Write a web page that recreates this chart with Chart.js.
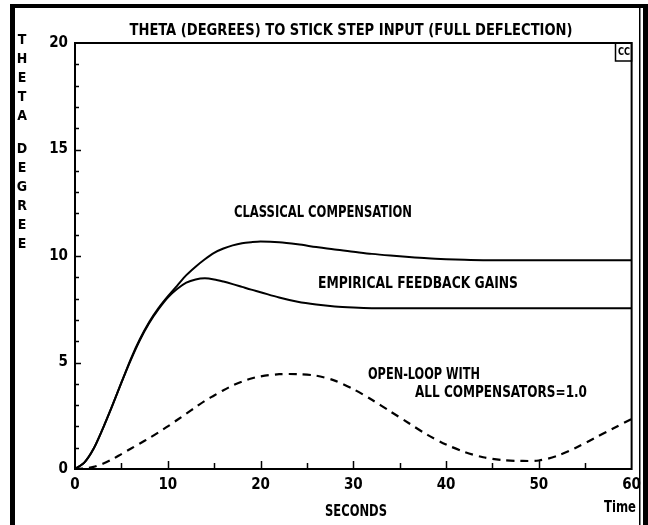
<!DOCTYPE html>
<html>
<head>
<meta charset="utf-8">
<script src="https://cdn.jsdelivr.net/npm/chart.js@4"></script>
<style>
  html, body { margin: 0; padding: 0; background: #fff; }
  #wrap { width: 648px; height: 525px; }
</style>
</head>
<body>
<div id="wrap"><canvas id="myChart" width="648" height="525"></canvas></div>
<script>
const time = [0, 1, 2, 3, 4, 5, 6, 7, 8, 9, 10, 11, 12, 13, 14, 15, 16, 17, 18, 19, 20,
  22, 24, 26, 28, 30, 32, 34, 36, 38, 40, 42, 44, 46, 48, 50, 52, 54, 56, 58, 60];

const classical = [0, 0.3, 0.95, 1.9, 2.95, 4.05, 5.15, 6.1, 6.9, 7.55, 8.1, 8.6, 9.1, 9.5, 9.85, 10.15, 10.35, 10.5, 10.6, 10.65, 10.68,
  10.65, 10.55, 10.42, 10.3, 10.2, 10.1, 10.02, 9.95, 9.89, 9.85, 9.82, 9.8, 9.8, 9.8, 9.8, 9.8, 9.8, 9.8, 9.8, 9.8];

const empirical = [0, 0.3, 0.95, 1.9, 2.95, 4.05, 5.1, 6.05, 6.85, 7.5, 8.05, 8.45, 8.75, 8.9, 8.95, 8.9, 8.8, 8.68, 8.55, 8.42, 8.3,
  8.05, 7.85, 7.72, 7.63, 7.58, 7.55, 7.55, 7.55, 7.55, 7.55, 7.55, 7.55, 7.55, 7.55, 7.55, 7.55, 7.55, 7.55, 7.55, 7.55];

const openLoop = [0, 0.02, 0.1, 0.25, 0.45, 0.7, 0.95, 1.2, 1.45, 1.72, 2.0, 2.3, 2.6, 2.9, 3.2, 3.45, 3.7, 3.92, 4.1, 4.25, 4.35,
  4.45, 4.45, 4.38, 4.15, 3.75, 3.25, 2.7, 2.15, 1.6, 1.15, 0.8, 0.55, 0.42, 0.38, 0.4, 0.62, 1.0, 1.45, 1.9, 2.35];

const xTicks = [0, 10, 20, 30, 40, 50, 60];
const yTicks = [0, 5, 10, 15, 20];

const FONT = "'DejaVu Sans Condensed', 'Liberation Sans Narrow', sans-serif";
const toPoints = (ys) => time.map((t, i) => ({ x: t, y: ys[i] }));

// squeezed text, the original uses a tall narrow plotter font
const label = (ctx, text, x, y, w, size) => {
  ctx.font = "bold " + (size || 16) + "px " + FONT;
  ctx.fillText(text, x, y, w);
};

const decorPlugin = {
  id: "decor",
  afterDraw(chart) {
    const { ctx, chartArea: a, scales } = chart;
    const xs = scales.x, ys = scales.y;
    ctx.save();
    ctx.strokeStyle = "#000";
    ctx.fillStyle = "#000";

    // plot box
    ctx.lineWidth = 2;
    ctx.strokeRect(a.left, a.top, a.right - a.left, a.bottom - a.top);

    // inward tick marks
    ctx.lineWidth = 1.5;
    for (let t = 5; t < 60; t += 5) {
      const px = Math.round(xs.getPixelForValue(t)) + 0.5;
      const len = t % 10 === 0 ? 8 : 6;
      ctx.beginPath(); ctx.moveTo(px, a.bottom); ctx.lineTo(px, a.bottom - len); ctx.stroke();
    }
    for (let v = 1; v < 20; v++) {
      const py = Math.round(ys.getPixelForValue(v)) + 0.5;
      const len = v % 5 === 0 ? 6 : 4;
      ctx.beginPath(); ctx.moveTo(a.left, py); ctx.lineTo(a.left + len, py); ctx.stroke();
    }

    // title
    ctx.textAlign = "center";
    ctx.textBaseline = "middle";
    label(ctx, "THETA (DEGREES) TO STICK STEP INPUT (FULL DEFLECTION)", 351, 31, 443);

    // vertical y title
    ctx.font = "bold 14px " + FONT;
    const letters = "THETA DEGREE";
    let yy = 40;
    for (const ch of letters) {
      if (ch === " ") { yy += 14; continue; }
      ctx.fillText(ch, 22, yy);
      yy += 19;
    }

    // x axis titles
    label(ctx, "SECONDS", 356, 512, 62, 15);
    label(ctx, "Time", 620, 508, 32, 15);

    // CC box
    ctx.lineWidth = 1.5;
    ctx.strokeRect(615.5, a.top, a.right - 615.5, 18);
    label(ctx, "CC", 624, a.top + 9, 12, 11);

    // curve labels
    ctx.textAlign = "left";
    label(ctx, "CLASSICAL COMPENSATION", 234, 213, 178);
    label(ctx, "EMPIRICAL FEEDBACK GAINS", 318, 284, 200);
    label(ctx, "OPEN-LOOP WITH", 368, 375, 112);
    label(ctx, "ALL COMPENSATORS=1.0", 415, 393, 172);

    // outer frame
    ctx.fillRect(10, 4, 5, 521);
    ctx.fillRect(10, 4, 638, 4);
    ctx.fillRect(643, 4, 5, 521);
    ctx.fillRect(639, 8, 1.5, 517);
    ctx.restore();
  }
};

const ctx = document.getElementById("myChart").getContext("2d");
const myChart = new Chart(ctx, {
  type: "line",
  data: {
    datasets: [
      {
        label: "Classical compensation",
        data: toPoints(classical),
        borderColor: "#000",
        borderWidth: 2,
        pointRadius: 0,
        tension: 0.3,
        fill: false,
      },
      {
        label: "Empirical feedback gains",
        data: toPoints(empirical),
        borderColor: "#000",
        borderWidth: 2,
        pointRadius: 0,
        tension: 0.3,
        fill: false,
      },
      {
        label: "Open-loop with all compensators=1.0",
        data: toPoints(openLoop),
        borderColor: "#000",
        borderWidth: 2.2,
        borderDash: [8, 6],
        pointRadius: 0,
        tension: 0.3,
        fill: false,
      },
    ],
  },
  options: {
    responsive: false,
    animation: false,
    layout: { padding: { left: 0, right: 15, top: 43, bottom: 0 } },
    plugins: {
      legend: { display: false },
      tooltip: { enabled: false },
    },
    scales: {
      x: {
        type: "linear",
        min: 0,
        max: 60,
        afterFit: (s) => { s.height = 56; },
        afterBuildTicks: (s) => { s.ticks = xTicks.map((v) => ({ value: v })); },
        grid: { display: false, drawTicks: false },
        border: { display: true, color: "#000", width: 2 },
        ticks: { color: "#000", padding: 7, font: { family: FONT, size: 15, weight: "bold" } },
      },
      y: {
        type: "linear",
        min: 0,
        max: 20,
        afterFit: (s) => { s.width = 75; },
        afterBuildTicks: (s) => { s.ticks = yTicks.map((v) => ({ value: v })); },
        grid: { display: false, drawTicks: false },
        border: { display: true, color: "#000", width: 2 },
        ticks: { color: "#000", padding: 7, font: { family: FONT, size: 15, weight: "bold" } },
      },
    },
  },
  plugins: [decorPlugin],
});
</script>
</body>
</html>
